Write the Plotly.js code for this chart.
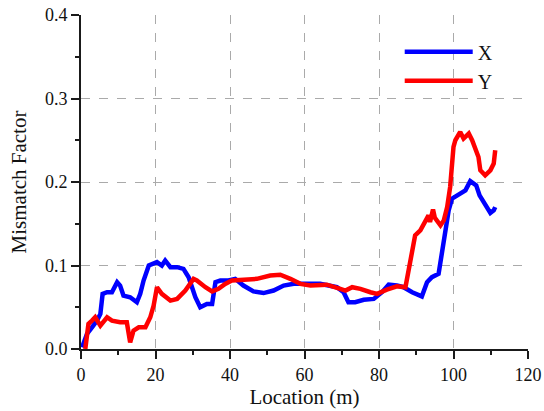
<!DOCTYPE html>
<html>
<head>
<meta charset="utf-8">
<script src="https://cdn.plot.ly/plotly-3.0.1.min.js"></script>
<style>html,body{margin:0;padding:0;background:#fff;}#chart{width:544px;height:411px;}</style>
</head>
<body>
<div id="chart"></div>
<script>
const seriesNames = ["X", "Y"];
const xLoc = [0.3,1.6,2.95,4.3,5.2,5.8,7.0,8.3,9.7,10.5,11.4,13.2,15.0,15.9,16.8,18.2,20.4,21.7,22.6,24.0,25.8,27.5,28.9,30.2,30.7,32.0,33.8,35.2,36.1,37.4,39.6,41.4,43.6,46.3,49.0,51.7,54.4,57.1,60.7,64.2,68.7,70.5,71.8,73.6,75.9,78.6,80.8,82.6,84.8,86.6,88.9,91.5,92.9,94.2,96.0,96.9,97.8,98.7,99.6,100.9,102.3,103.2,104.5,106.1,107.0,108.5,109.9,110.8,111.2];
const xVal = [0.002,0.018,0.026,0.034,0.042,0.066,0.068,0.068,0.080,0.076,0.064,0.062,0.056,0.066,0.082,0.100,0.104,0.100,0.106,0.098,0.098,0.096,0.086,0.070,0.062,0.050,0.054,0.054,0.080,0.082,0.082,0.084,0.076,0.069,0.067,0.070,0.076,0.078,0.078,0.078,0.074,0.068,0.056,0.056,0.059,0.060,0.068,0.077,0.076,0.074,0.068,0.063,0.080,0.086,0.090,0.114,0.142,0.166,0.180,0.184,0.187,0.190,0.201,0.196,0.184,0.172,0.163,0.166,0.170];
const yLoc = [1.15,2.0,2.95,3.8,5.2,7.0,8.3,10.5,12.3,13.2,14.1,15.5,17.3,18.6,19.5,20.4,21.7,24.0,25.8,28.0,30.2,31.1,33.4,35.2,36.9,38.7,40.5,43.6,47.2,50.8,53.5,56.2,58.9,61.6,66.0,69.6,71.0,72.8,75.0,77.7,79.5,82.1,84.8,87.1,88.0,88.9,89.7,91.1,92.4,93.3,93.7,94.5,95.0,96.5,97.4,98.3,99.1,99.6,100.0,100.5,101.8,102.7,104.1,105.0,105.9,106.7,107.2,108.5,109.9,110.8,111.2];
const yVal = [0.0,0.030,0.034,0.038,0.028,0.038,0.034,0.032,0.032,0.008,0.022,0.026,0.026,0.038,0.052,0.074,0.066,0.058,0.060,0.070,0.084,0.082,0.074,0.069,0.072,0.078,0.082,0.083,0.084,0.088,0.089,0.084,0.078,0.076,0.077,0.072,0.070,0.074,0.072,0.068,0.066,0.071,0.075,0.074,0.098,0.120,0.136,0.142,0.152,0.160,0.152,0.167,0.157,0.148,0.154,0.170,0.194,0.226,0.242,0.250,0.260,0.252,0.258,0.250,0.238,0.230,0.214,0.208,0.214,0.222,0.238];
const xTickVals = [0,20,40,60,80,100,120];
const yTickVals = [0.0,0.1,0.2,0.3,0.4];
const yTickText = ["0.0","0.1","0.2","0.3","0.4"];

const font = "Liberation Serif, Times New Roman, serif";
const traces = [
  {x: xLoc, y: xVal, name: seriesNames[0], mode: "lines", line: {color: "#0000ff", width: 4.5}},
  {x: yLoc, y: yVal, name: seriesNames[1], mode: "lines", line: {color: "#ff0000", width: 4.5}}
];
const axCommon = {showline: true, linewidth: 2, linecolor: "#1a1a1a", zeroline: false,
  tickwidth: 2, tickcolor: "#1a1a1a", ticklen: 8};
const layout = {
  width: 544, height: 411,
  margin: {l: 81, r: 16, t: 15, b: 62},
  paper_bgcolor: "#fff", plot_bgcolor: "#fff",
  font: {family: font, size: 18, color: "#111"},
  showlegend: true,
  legend: {x: 0.713, y: 0.948, xanchor: "left", yanchor: "top", bgcolor: "rgba(0,0,0,0)",
    font: {family: font, size: 20, color: "#111"}, itemwidth: 68, tracegroupgap: 0},
  xaxis: Object.assign({}, axCommon, {range: [0, 120], tickvals: xTickVals, ticks: "outside",
    minor: {dtick: 10, ticks: "outside", ticklen: 4, tickwidth: 2, tickcolor: "#1a1a1a", showgrid: false},
    showgrid: true, gridcolor: "#aaaaaa", griddash: "dash", gridwidth: 1,
    title: {text: "Location (m)", font: {family: font, size: 21}, standoff: 1}}),
  yaxis: Object.assign({}, axCommon, {range: [0, 0.4], tickvals: yTickVals, ticktext: yTickText, ticks: "outside",
    minor: {dtick: 0.05, ticks: "outside", ticklen: 4, tickwidth: 2, tickcolor: "#1a1a1a", showgrid: false},
    showgrid: true, gridcolor: "#aaaaaa", griddash: "dash", gridwidth: 1,
    title: {text: "Mismatch Factor", font: {family: font, size: 21}, standoff: 13}}),
  xaxis2: Object.assign({}, axCommon, {range: [0, 120], overlaying: "x", side: "top", anchor: "y",
    tickvals: xTickVals, ticks: "inside", showticklabels: false, showgrid: false,
    minor: {dtick: 10, ticks: "inside", ticklen: 4, tickwidth: 2, tickcolor: "#1a1a1a", showgrid: false}}),
  yaxis2: Object.assign({}, axCommon, {range: [0, 0.4], overlaying: "y", side: "right", anchor: "x",
    tickvals: yTickVals, ticks: "inside", showticklabels: false, showgrid: false,
    minor: {dtick: 0.05, ticks: "inside", ticklen: 4, tickwidth: 2, tickcolor: "#1a1a1a", showgrid: false}})
};
Plotly.newPlot("chart", traces, layout, {staticPlot: true, displayModeBar: false});
</script>
</body>
</html>
